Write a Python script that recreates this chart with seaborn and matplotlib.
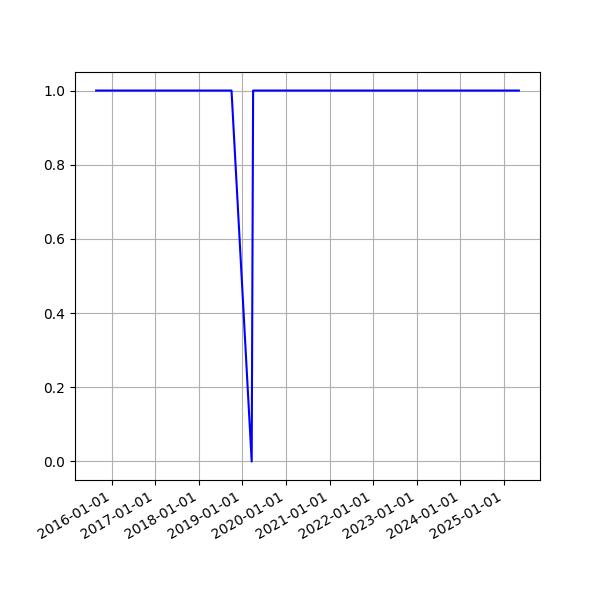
import pandas as pd
import matplotlib
matplotlib.use("Agg")
import matplotlib.pyplot as plt
import matplotlib.dates as mdates
import seaborn as sns

# values
dates = ["2015-08-25", "2018-10-02", "2019-03-20", "2019-04-01", "2025-05-05"]
values = [1.0, 1.0, 0.0, 1.0, 1.0]

df = pd.DataFrame({"date": pd.to_datetime(dates), "value": values})

fig, ax = plt.subplots(figsize=(6, 6), dpi=100)
sns.lineplot(data=df, x="date", y="value", color="blue", ax=ax)
ax.grid(True, color="#b0b0b0")
ax.set_axisbelow(True)
ax.set_xlabel("")
ax.set_ylabel("")
ax.xaxis.set_major_locator(mdates.YearLocator())
ax.xaxis.set_major_formatter(mdates.DateFormatter("%Y-%m-%d"))
fig.autofmt_xdate()

plt.savefig("out.png")
